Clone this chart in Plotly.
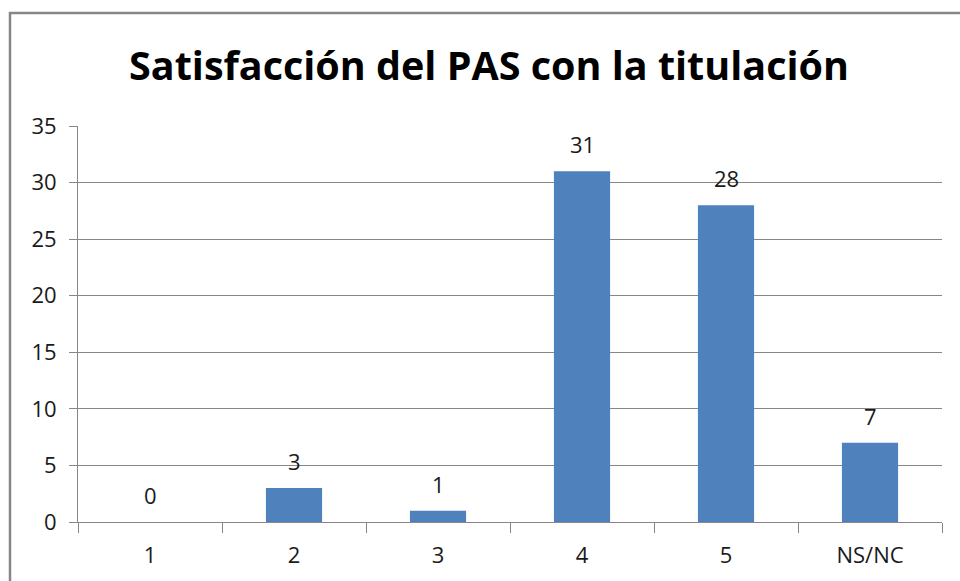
import plotly.graph_objects as go

categories = ["1", "2", "3", "4", "5", "NS/NC"]
counts = [0, 3, 1, 31, 28, 7]
y_ticks = [0, 5, 10, 15, 20, 25, 30, 35]

title_text = "Satisfacción del PAS con la titulación"
bar_color = "#4F81BD"
grid_color = "#878787"
font_family = "'Open Sans', sans-serif"

fig = go.Figure(
    go.Bar(
        x=categories,
        y=counts,
        marker=dict(color=bar_color, line=dict(width=0)),
        width=0.39,
        hoverinfo="x+y",
    )
)

# value labels above each bar (positioned by category index)
for i, val in enumerate(counts):
    fig.add_annotation(
        x=i, y=val, text=str(val), showarrow=False,
        yshift=27, font=dict(family=font_family, size=22, color="#1a1a1a"),
    )

# chart frame
fig.add_shape(
    type="rect", xref="paper", yref="paper",
    x0=(10 - 78) / 864, x1=(975 - 78) / 864,
    y0=-(600 - 522) / 396, y1=1 + (126 - 13) / 396,
    line=dict(color="#868686", width=2.5), fillcolor="rgba(0,0,0,0)",
    layer="below",
)

fig.update_layout(
    width=960, height=581,
    margin=dict(l=78, r=18, t=126, b=59),
    paper_bgcolor="white", plot_bgcolor="white",
    showlegend=False,
    title=dict(
        text=f"<b>{title_text}</b>",
        x=489 / 960, xanchor="center", y=1 - 66 / 581, yanchor="middle",
        font=dict(family=font_family, size=39.5, color="#000000"),
    ),
    font=dict(family=font_family, size=22, color="#1a1a1a"),
    xaxis=dict(
        type="category",
        showgrid=False, showline=True, linecolor=grid_color, linewidth=1,
        ticks="outside", ticklen=10, tickcolor=grid_color,
        tickson="boundaries",
        tickfont=dict(size=22),
        ticklabelstandoff=14,
    ),
    yaxis=dict(
        range=[0, 35], tickvals=y_ticks,
        showgrid=True, gridcolor=grid_color, gridwidth=1,
        showline=True, linecolor=grid_color, linewidth=1,
        ticks="outside", ticklen=8, tickcolor=grid_color,
        zeroline=False, tickfont=dict(size=22),
        ticklabelstandoff=8,
    ),
)

fig.write_html("out.html")
